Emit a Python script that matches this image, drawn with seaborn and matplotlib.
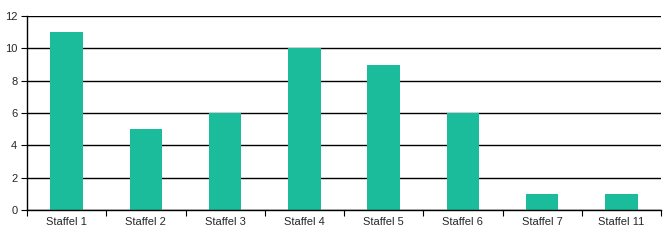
import matplotlib
matplotlib.use("Agg")
import matplotlib.pyplot as plt
import seaborn as sns
import pandas as pd
import numpy as np

categories = ["Staffel 1", "Staffel 2", "Staffel 3", "Staffel 4", "Staffel 5", "Staffel 6", "Staffel 7", "Staffel 11"]
values = [11, 5, 6, 10, 9, 6, 1, 1]

sns.set_style("white")
plt.rcParams['font.family'] = ['Liberation Sans', 'DejaVu Sans']

df = pd.DataFrame({"cat": categories, "val": values})
fig = plt.figure(figsize=(6.7, 2.4), dpi=100)
ax = fig.add_axes([27/670, 1-210/240, (661-27)/670, (210-16)/240])
sns.barplot(data=df, x="cat", y="val", color="#1ABC9C", width=0.41, ax=ax,
            saturation=1, linewidth=0, edgecolor="none")
ax.set_xlim(-0.5, len(categories) - 0.5)
ax.set_ylim(0, 12)
ax.set_yticks(range(0, 13, 2))
ax.yaxis.grid(True, color="black", linewidth=1)
ax.set_axisbelow(True)
ax.set_xlabel("")
ax.set_ylabel("")
for s in ["top", "right"]:
    ax.spines[s].set_visible(False)
for s in ["left", "bottom"]:
    ax.spines[s].set_color("black")
    ax.spines[s].set_linewidth(1)
ax.set_xticks(np.arange(-0.5, len(categories), 1.0))
ax.set_xticklabels([])
ax.set_xticks(np.arange(len(categories)), minor=True)
ax.set_xticklabels(categories, minor=True, fontsize=8)
ax.tick_params(axis="x", which="major", length=4, direction="out", color="black", bottom=True)
ax.tick_params(axis="x", which="minor", length=0, pad=5)
ax.tick_params(axis="y", length=4, direction="out", color="black", labelsize=8, left=True, pad=3)
fig.savefig("out.png", dpi=100)
